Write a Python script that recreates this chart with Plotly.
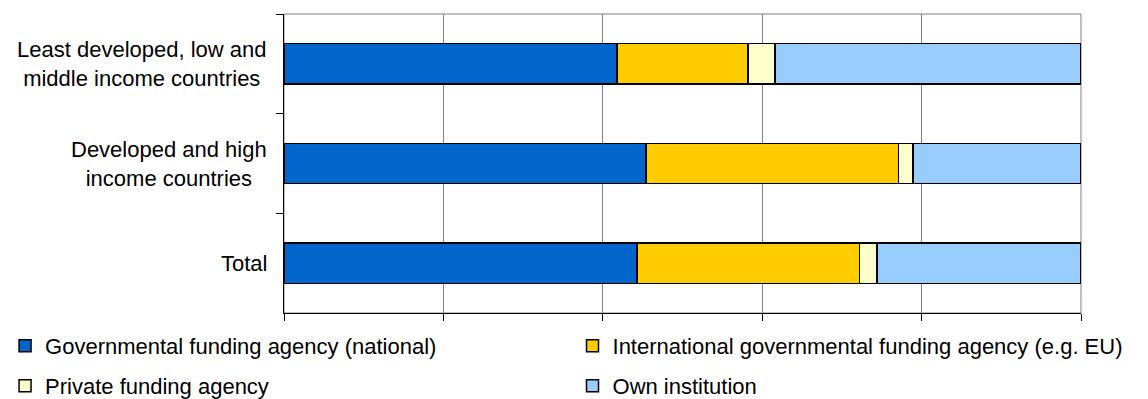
import plotly.graph_objects as go

categories = [
    "Least developed, low and middle income countries",
    "Developed and high income countries",
    "Total",
]
category_labels = [
    "Least developed, low and<br>middle income countries",
    "Developed and high<br>income countries",
    "Total",
]
series_names = [
    "Governmental funding agency (national)",
    "International governmental funding agency (e.g. EU)",
    "Private funding agency",
    "Own institution",
]
governmental = [41.8, 45.4, 44.3]
international = [16.4, 31.7, 27.9]
private = [3.4, 1.8, 2.2]
own_institution = [38.4, 21.1, 25.6]
x_ticks = [0, 20, 40, 60, 80, 100]

colors = ["#0066CC", "#FFCC00", "#FFFFCC", "#99CCFF"]
values = [governmental, international, private, own_institution]
legend_ids = ["legend", "legend2", "legend3", "legend4"]

FONT = "Liberation Sans, Arial, sans-serif"

fig = go.Figure()
for name, vals, col, lg in zip(series_names, values, colors, legend_ids):
    fig.add_trace(go.Bar(
        y=categories, x=vals, name=name, orientation="h",
        marker=dict(color=col, line=dict(color="#000000", width=1.5)),
        legend=lg,
    ))

legend_common = dict(
    orientation="h", xanchor="left", yanchor="middle",
    font=dict(family=FONT, size=22, color="#000000"),
    bgcolor="rgba(0,0,0,0)", borderwidth=0,
)
leg_x = [-0.35, 0.362, -0.35, 0.362]
leg_y = [-0.110, -0.110, -0.244, -0.244]

layout_legends = {}
for lg, lx, ly in zip(legend_ids, leg_x, leg_y):
    layout_legends[lg] = dict(x=lx, y=ly, **legend_common)

annotations = []
for cat, lab in zip(categories, category_labels):
    annotations.append(dict(
        xref="paper", yref="y", x=-0.019, y=cat, text=lab,
        showarrow=False, xanchor="right", yanchor="middle", align="center",
        font=dict(family=FONT, size=22, color="#000000"),
    ))

fig.update_layout(
    width=1148, height=399,
    margin=dict(l=284, r=67, t=14, b=86, autoexpand=False),
    barmode="stack", bargap=0.594,
    paper_bgcolor="#FFFFFF", plot_bgcolor="#FFFFFF",
    font=dict(family=FONT, size=22, color="#000000"),
    showlegend=True,
    annotations=annotations,
    shapes=[dict(type="rect", xref="paper", yref="paper", x0=0, x1=1, y0=0, y1=1,
                 line=dict(color="#808080", width=1), layer="below")],
    **layout_legends,
)
fig.update_xaxes(
    range=[0, 100], tickvals=x_ticks, showticklabels=False,
    showgrid=True, gridcolor="#808080", gridwidth=1,
    ticks="outside", ticklen=7, tickcolor="#000000",
    showline=True, linecolor="#000000", linewidth=1, zeroline=False,
)
fig.update_yaxes(
    categoryorder="array", categoryarray=categories, autorange="reversed",
    showticklabels=False, showgrid=False,
    ticks="outside", ticklen=7, tickcolor="#000000", tickson="boundaries",
    showline=True, linecolor="#000000", linewidth=1, zeroline=False,
)

fig.write_html("out.html")
